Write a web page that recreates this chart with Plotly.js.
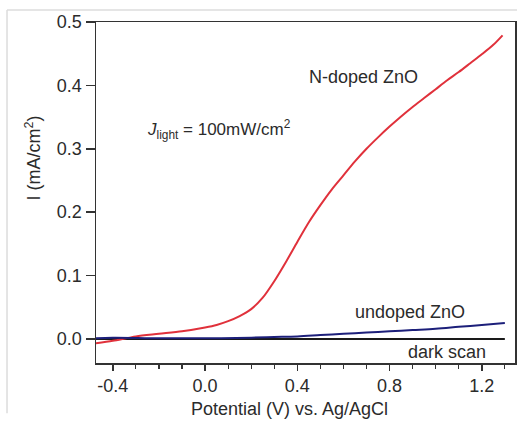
<!DOCTYPE html>
<html>
<head>
<meta charset="utf-8">
<script src="https://cdn.plot.ly/plotly-3.0.1.min.js"></script>
<style>
html,body{margin:0;padding:0;background:#fff;}
#chart{width:517px;height:423px;}
</style>
</head>
<body>
<div id="chart"></div>
<script>
// Data
const nDopedV = [-0.473, -0.40, -0.30, -0.20, -0.10, 0.00, 0.05, 0.10, 0.15, 0.20, 0.25, 0.30, 0.35, 0.40, 0.45, 0.50, 0.55, 0.60, 0.65, 0.70, 0.75, 0.80, 0.85, 0.90, 0.95, 1.00, 1.05, 1.10, 1.15, 1.20, 1.25, 1.29];
const nDopedI = [-0.007, -0.003, 0.004, 0.008, 0.012, 0.018, 0.022, 0.028, 0.036, 0.047, 0.065, 0.091, 0.121, 0.153, 0.184, 0.211, 0.236, 0.258, 0.280, 0.300, 0.318, 0.335, 0.351, 0.366, 0.380, 0.394, 0.408, 0.421, 0.435, 0.449, 0.464, 0.479];
const undopedV = [-0.473, -0.40, -0.20, 0.00, 0.20, 0.30, 0.40, 0.50, 0.60, 0.70, 0.80, 0.90, 1.00, 1.10, 1.20, 1.30];
const undopedI = [0.001, 0.002, 0.001, 0.001, 0.002, 0.003, 0.004, 0.006, 0.008, 0.010, 0.012, 0.014, 0.016, 0.019, 0.022, 0.025];
const darkV = [-0.473, 0.00, 0.50, 1.00, 1.30];
const darkI = [0.000, 0.000, -0.001, -0.001, 0.000];
const xTickVals = [-0.4, 0.0, 0.4, 0.8, 1.2];
const xTickText = ['-0.4', '0.0', '0.4', '0.8', '1.2'];
const yTickVals = [0.0, 0.1, 0.2, 0.3, 0.4, 0.5];
const yTickText = ['0.0', '0.1', '0.2', '0.3', '0.4', '0.5'];

const FONT = 'Liberation Sans, Arial, Helvetica, sans-serif';
const TXT = '#2b2b2b';

const traces = [
  {x: darkV, y: darkI, mode: 'lines', line: {color: '#1a1a1a', width: 2}, name: 'dark scan'},
  {x: nDopedV, y: nDopedI, mode: 'lines', line: {color: '#e0313b', width: 2, shape: 'spline', smoothing: 0.8}, name: 'N-doped ZnO'},
  {x: undopedV, y: undopedI, mode: 'lines', line: {color: '#1c1f7a', width: 2, shape: 'spline'}, name: 'undoped ZnO'}
];

const layout = {
  width: 517, height: 423,
  margin: {l: 96, r: 2, t: 22, b: 60},
  paper_bgcolor: '#ffffff', plot_bgcolor: '#ffffff',
  showlegend: false,
  font: {family: FONT, size: 18, color: TXT},
  xaxis: {
    range: [-0.473, 1.344], showgrid: false, zeroline: false,
    showline: true, mirror: true, linecolor: '#333', linewidth: 1.5,
    tickmode: 'array', tickvals: xTickVals, ticktext: xTickText,
    ticks: 'outside', ticklen: 6, tickwidth: 1.5, tickcolor: '#333',
    minor: {dtick: 0.1, tick0: 0, ticks: 'outside', ticklen: 4, tickwidth: 1.2, tickcolor: '#333'},
    tickfont: {family: FONT, size: 18, color: TXT}
  },
  yaxis: {
    range: [-0.038, 0.5], showgrid: false, zeroline: false,
    showline: true, mirror: true, linecolor: '#333', linewidth: 1.5,
    tickmode: 'array', tickvals: yTickVals, ticktext: yTickText,
    ticks: 'outside', ticklen: 9, tickwidth: 1.5, tickcolor: '#333',
    tickfont: {family: FONT, size: 18, color: TXT}
  },
  annotations: [
    {xref: 'paper', yref: 'paper', x: 0.463, y: -0.135, text: 'Potential (V) vs. Ag/AgCl', showarrow: false, xanchor: 'center', yanchor: 'middle', font: {size: 18}},
    {xref: 'paper', yref: 'paper', x: -0.150, y: 0.60, text: 'I (mA/cm<sup>2</sup>)', textangle: -90, showarrow: false, xanchor: 'center', yanchor: 'middle', font: {size: 18}},
    {xref: 'x', yref: 'y', x: 0.685, y: 0.413, text: 'N-doped ZnO', showarrow: false, xanchor: 'center', yanchor: 'middle', font: {size: 18}},
    {xref: 'x', yref: 'y', x: -0.26, y: 0.330, text: '<i>J</i><sub>light</sub> = 100mW/cm<sup>2</sup>', showarrow: false, xanchor: 'left', yanchor: 'middle', font: {size: 17}},
    {xref: 'x', yref: 'y', x: 0.889, y: 0.043, text: 'undoped ZnO', showarrow: false, xanchor: 'center', yanchor: 'middle', font: {size: 18}},
    {xref: 'x', yref: 'y', x: 1.049, y: -0.021, text: 'dark scan', showarrow: false, xanchor: 'center', yanchor: 'middle', font: {size: 18}}
  ],
  shapes: [
    {type: 'line', xref: 'paper', yref: 'paper', x0: -0.2124, x1: 1.01, y0: 1.035, y1: 1.035, line: {color: '#dcdcdc', width: 1.5}},
    {type: 'line', xref: 'paper', yref: 'paper', x0: -0.2124, x1: -0.2124, y0: 1.035, y1: -0.147, line: {color: '#dcdcdc', width: 1.5}}
  ]
};

Plotly.newPlot('chart', traces, layout, {displayModeBar: false, staticPlot: true});
</script>
</body>
</html>
